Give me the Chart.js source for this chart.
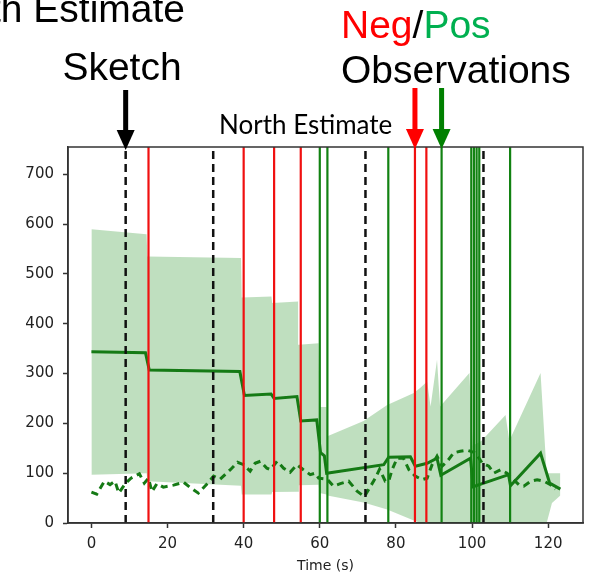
<!DOCTYPE html>
<html>
<head>
<meta charset="utf-8">
<script src="https://cdn.jsdelivr.net/npm/chart.js@4"></script>
<style>
  html, body { margin: 0; padding: 0; background: #fff; }
  #wrap { width: 592px; height: 577px; position: relative; }
</style>
</head>
<body>
<div id="wrap"><canvas id="north-chart"></canvas></div>
<script>
// observation / sketch times (s)
var sketchTimes = [9, 32, 72, 103];
var negObsTimes = [15, 40, 48, 55, 85, 88];
var posObsTimes = [60, 62, 78, 92, 99.8, 100.5, 101.2, 101.9, 110];

// north estimate (mean)
var meanTime  = [0, 14.2, 15.2, 39, 40.2, 47.2, 48, 54, 55, 59.2, 60.2, 61.2, 61.8, 76.8, 78.1, 83.8, 85.1, 88.2, 90.8, 91.8, 99.6, 100.3, 109.6, 110.1, 118, 120.4, 123.2];
var meanValue = [344, 342, 307, 304, 256, 259, 250, 254, 205, 207, 141, 135, 100, 117, 132, 133, 114, 120, 130, 96, 130, 73, 97, 75, 140, 80, 68];

// true north
var truthTime  = [0, 1.4, 3.4, 4.9, 6.2, 7.2, 9, 10.4, 12.6, 13.9, 15, 15.9, 17.2, 18.9, 21.6, 24.2, 26, 28.1, 30.3, 32.1, 33.8, 36.5, 38.4, 40, 41.7, 43, 44.4, 46.1, 47, 48.8, 50.5, 52.2, 54, 55.7, 57.5, 58.8, 59.7, 61.9, 63.6, 65.4, 67.6, 69.8, 71.7, 72.8, 74.6, 75.7, 77.2, 78.1, 79, 80.3, 82, 83.4, 85.1, 86.9, 88.2, 89.5, 90.8, 92.1, 93.5, 95.2, 96.9, 98.7, 100.9, 102.7, 104.4, 105.7, 107.5, 109.2, 110.5, 112.3, 113.6, 115.4, 117.1, 118.9, 120.6, 121.9];
var truthValue = [62, 58, 84, 77, 84, 60, 80, 90, 99, 80, 90, 63, 79, 72, 76, 82, 71, 60, 78, 94, 88, 107, 122, 117, 104, 120, 124, 110, 107, 124, 110, 102, 117, 107, 97, 100, 90, 88, 74, 79, 84, 64, 53, 67, 90, 108, 84, 84, 107, 130, 130, 107, 94, 87, 90, 117, 134, 114, 124, 141, 144, 146, 141, 120, 114, 100, 107, 100, 90, 77, 74, 84, 87, 84, 77, 68];

// uncertainty band
var bandTime  = [0, 14.5, 14.7, 39.3, 39.5, 47.3, 47.5, 54.3, 54.5, 59.7, 59.9, 61.8, 62, 71.5, 77.7, 84.7, 86.5, 88.2, 89.1, 90.8, 91.6, 99.3, 100.2, 102.5, 108.8, 109.8, 118, 119.6, 121, 123.2];
var bandUpper = [590, 580, 535, 532, 453, 455, 442, 445, 358, 361, 233, 233, 174, 205, 237, 261, 272, 284, 234, 328, 234, 301, 155, 165, 217, 165, 301, 100, 100, 100];
var bandLower = [97, 100, 84, 75, 57, 57, 62, 63, 76, 77, 60, 57, 55, 41, 27, 5, 0, 0, 0, 0, 0, 0, 0, 0, 0, 0, 0, 0, 40, 55];

var Y_MAX = 755;

function xy(ts, vs) {
    return ts.map(function (t, i) { return {x: t, y: vs[i]}; });
}

function vline(t, color, width, dash) {
    return {
        data: [{x: t, y: 0}, {x: t, y: Y_MAX}],
        borderColor: color,
        borderWidth: width,
        borderDash: dash || [],
        pointRadius: 0,
        fill: false,
        order: 0
    };
}

var datasets = [
    {   // band upper edge
        data: xy(bandTime, bandUpper),
        borderWidth: 0,
        borderColor: 'rgba(0,0,0,0)',
        pointRadius: 0,
        fill: false,
        order: 3
    },
    {   // band lower edge, filled up to the upper edge
        data: xy(bandTime, bandLower),
        borderWidth: 0,
        borderColor: 'rgba(0,0,0,0)',
        backgroundColor: 'rgba(0,128,0,0.25)',
        pointRadius: 0,
        fill: 0,
        order: 3
    },
    {
        data: xy(meanTime, meanValue),
        borderColor: '#157a15',
        borderWidth: 3,
        pointRadius: 0,
        fill: false,
        order: 1
    },
    {
        data: xy(truthTime, truthValue),
        borderColor: '#157a15',
        borderWidth: 3,
        borderDash: [7, 5],
        pointRadius: 0,
        fill: false,
        order: 1
    }
];

sketchTimes.forEach(function (t) { datasets.push(vline(t, '#111', 2.5, [8, 5])); });
negObsTimes.forEach(function (t) { datasets.push(vline(t, '#f01010', 2.2, null)); });
posObsTimes.forEach(function (t) { datasets.push(vline(t, '#128212', 2.2, null)); });

// frame + annotations above the plot
function arrow(ctx, x, yTop, yTip, color) {
    ctx.save();
    ctx.fillStyle = color;
    ctx.fillRect(x - 2.5, yTop, 5, yTip - yTop - 18);
    ctx.beginPath();
    ctx.moveTo(x - 9, yTip - 20);
    ctx.lineTo(x + 9, yTip - 20);
    ctx.lineTo(x, yTip);
    ctx.closePath();
    ctx.fill();
    ctx.restore();
}

var annotations = {
    id: 'annotations',
    afterDraw: function (chart) {
        var ctx = chart.ctx, a = chart.chartArea, xs = chart.scales.x;
        ctx.save();
        ctx.strokeStyle = '#333';
        ctx.lineWidth = 1.5;
        ctx.strokeRect(a.left, a.top, a.right - a.left, a.bottom - a.top);

        ctx.textBaseline = 'alphabetic';
        ctx.font = '39px "Liberation Sans", Arial, sans-serif';
        ctx.fillStyle = '#000';
        ctx.textAlign = 'right';
        ctx.fillText('North Estimate', 185, 22);
        ctx.textAlign = 'center';
        ctx.fillText('Sketch', 122, 80);
        ctx.textAlign = 'left';
        ctx.fillText('Observations', 341, 83);
        var x0 = 341;
        ctx.fillStyle = '#ff0000';
        ctx.fillText('Neg', x0, 38);
        x0 += ctx.measureText('Neg').width;
        ctx.fillStyle = '#000';
        ctx.fillText('/', x0, 38);
        x0 += ctx.measureText('/').width;
        ctx.fillStyle = '#00b050';
        ctx.fillText('Pos', x0, 38);

        ctx.fillStyle = '#000';
        ctx.font = '26px Lato, "Open Sans", sans-serif';
        ctx.fillText('North Estimate', 219, 134);
        ctx.restore();

        arrow(ctx, xs.getPixelForValue(sketchTimes[0]), 90, a.top + 3, '#000');
        arrow(ctx, xs.getPixelForValue(negObsTimes[4]), 88, a.top + 2, '#ff0000');
        arrow(ctx, xs.getPixelForValue(posObsTimes[3]), 88, a.top + 2, '#008000');
    }
};

var tickFont = {family: '"DejaVu Sans", sans-serif', size: 15};

var config = {
    type: 'line',
    data: {datasets: datasets},
    options: {
        responsive: true,
        maintainAspectRatio: false,
        animation: false,
        layout: {padding: {top: 147, right: 9, left: 0, bottom: 0}},
        plugins: {legend: {display: false}, tooltip: {enabled: false}},
        elements: {line: {tension: 0}},
        scales: {
            x: {
                type: 'linear',
                min: -6.15,
                max: 129.15,
                ticks: {stepSize: 20, includeBounds: false, font: tickFont, color: '#222', padding: 7, maxRotation: 0},
                grid: {drawOnChartArea: false, drawTicks: true, tickLength: 5, tickWidth: 1.5, tickColor: '#333'},
                border: {color: '#333', width: 1.5},
                title: {display: true, text: 'Time (s)', font: {family: '"DejaVu Sans", sans-serif', size: 14}, color: '#222', padding: {top: 0, bottom: 2}},
                afterFit: function (s) { s.height = 54; }
            },
            y: {
                min: 0,
                max: Y_MAX,
                ticks: {stepSize: 100, includeBounds: false, font: tickFont, color: '#222', padding: 9},
                grid: {drawOnChartArea: false, drawTicks: true, tickLength: 5, tickWidth: 1.5, tickColor: '#333'},
                border: {color: '#333', width: 1.5},
                afterFit: function (s) { s.width = 68; }
            }
        }
    },
    plugins: [annotations]
};

var northChart = new Chart(document.getElementById('north-chart'), config);
</script>
</body>
</html>
